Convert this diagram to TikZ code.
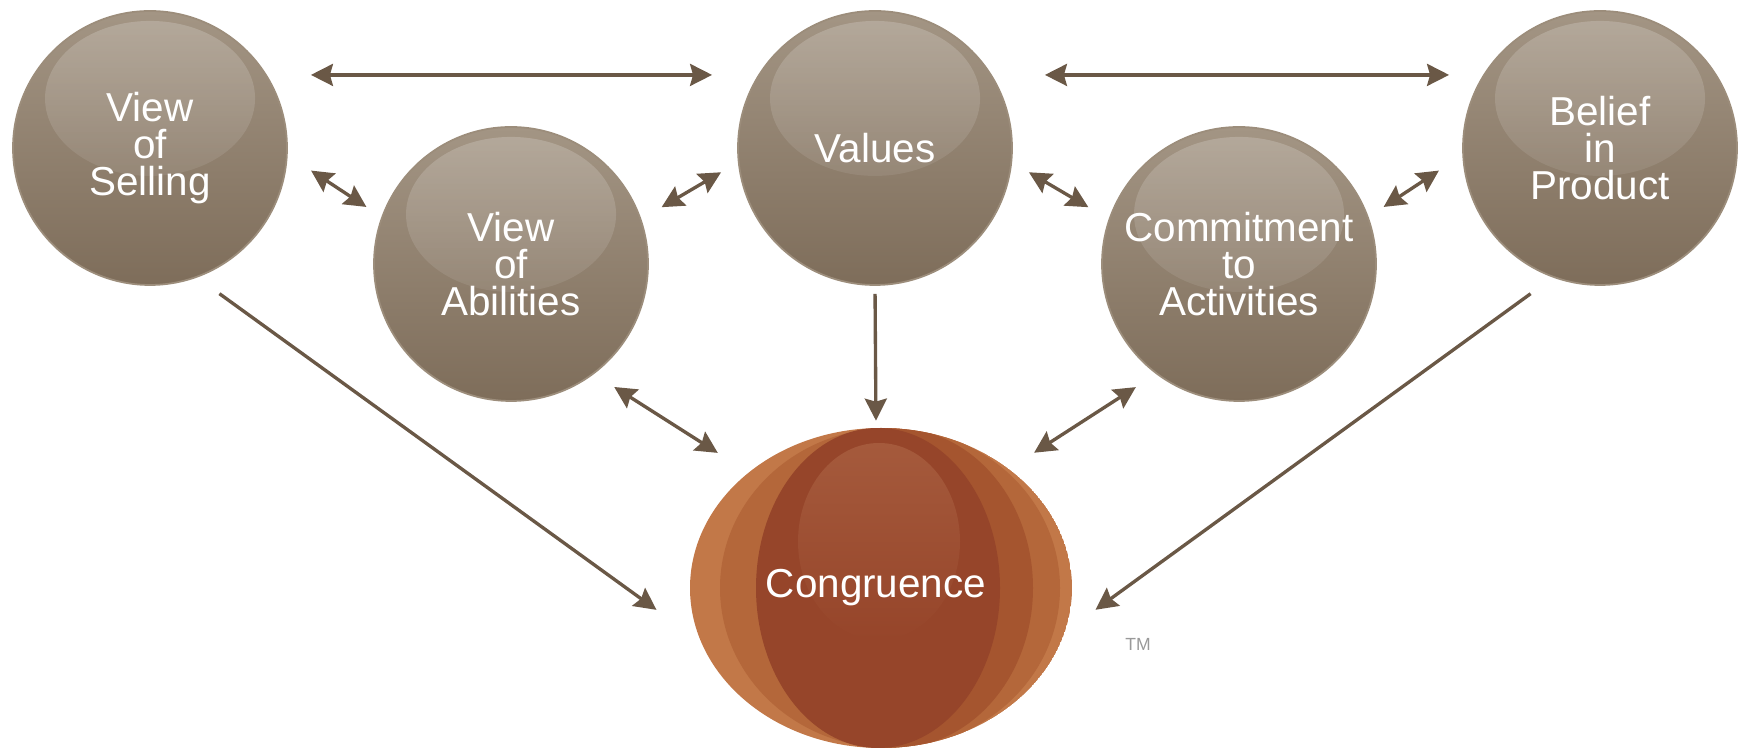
\documentclass[tikz,border=0pt]{standalone}
\usepackage{fontspec}
\setmainfont{Liberation Sans}
\usetikzlibrary{arrows.meta,shapes.geometric,fadings}

\definecolor{ballTop}{HTML}{A39584}
\definecolor{ballBot}{HTML}{7E6D5A}
\definecolor{ballRim}{HTML}{9C8D7B}
\definecolor{arrowC}{HTML}{6A5846}
\definecolor{congA}{HTML}{C27848}
\definecolor{congB}{HTML}{B4673A}
\definecolor{congC}{HTML}{A5552F}
\definecolor{congD}{HTML}{96452A}
\definecolor{congE}{HTML}{A55A3C}

\tikzfading[name=glossfade, top color=transparent!80, bottom color=transparent!100]

\tikzset{
  ball/.style={circle, minimum size=5.48cm, inner sep=0pt, top color=ballTop, bottom color=ballBot,
    draw=ballRim, line width=1pt, text=white, align=center, font=\fontsize{23}{21.2}\selectfont,
    path picture={\fill[white, path fading=glossfade] ([yshift=-1.75cm]path picture bounding box.north) ellipse (2.1cm and 1.55cm);}},
  link/.style={draw=arrowC, line width=1.9pt},
  >={Stealth[length=0.44cm,width=0.44cm,inset=0.06cm]}
}

\begin{document}
\begin{tikzpicture}
    \useasboundingbox (0,0) rectangle (34.92,14.96);

    \node[ball] (sell) at (3,12)     {View\\of\\Selling};
    \node[ball] (abil) at (10.22,9.68) {View\\of\\Abilities};
    \node[ball] (val)  at (17.5,12)  {Values};
    \node[ball] (comm) at (24.78,9.68) {Commitment\\to\\Activities};
    \node[ball] (bel)  at (32,12)    {Belief\\in\\Product};

    % layered sphere
    \begin{scope}
        \clip (17.62,3.2) ellipse (3.82 and 3.2);
        \fill[congA] (17.62,3.2) ellipse (3.82 and 3.2);
        \fill[congB] (17.80,3.2) ellipse (3.40 and 3.2);
        \fill[congC] (17.90,3.2) ellipse (2.76 and 3.2);
        \fill[congD] (17.56,3.2) ellipse (2.44 and 3.2);
        \shade[top color=congE, bottom color=congD] (17.58,4.13) ellipse (1.62 and 1.97);
    \end{scope}
    \node[ellipse, minimum width=7.64cm, minimum height=6.4cm, inner sep=0pt, text=white,
        font=\fontsize{23}{21.2}\selectfont] (cong) at (17.52,3.2) {Congruence};
    \node[text=gray!80, font=\fontsize{10}{12}\selectfont] (tm) at (22.76,2.08) {TM};

    \draw[link,<->,shorten <=0.88cm,shorten >=0.92cm] (sell.32) -- (val.148);
    \draw[link,<->,shorten <=1.06cm,shorten >=0.68cm] (val.32) -- (bel.148);
    \draw[link,<->,shorten <=0.56cm,shorten >=0.36cm] (sell.-3) -- (abil.160);
    \draw[link,<->,shorten <=0.47cm,shorten >=0.39cm] (abil.19) -- (val.186);
    \draw[link,<->,shorten <=0.39cm,shorten >=0.47cm] (val.-6) -- (comm.161);
    \draw[link,<->,shorten <=0.36cm,shorten >=0.56cm] (comm.20) -- (bel.183);
    \draw[link,->,shorten <=0.55cm,shorten >=0.92cm] (sell.-70) -- (cong.195);
    \draw[link,->,shorten <=0.16cm,shorten >=0.14cm] (val.south) -- (cong.north);
    \draw[link,->,shorten <=0.55cm,shorten >=0.92cm] (bel.-110) -- (cong.-15);
    \draw[link,<->,shorten <=0.48cm,shorten >=0.66cm] (abil.-53) -- (cong.138);
    \draw[link,<->,shorten <=0.48cm,shorten >=0.66cm] (comm.-127) -- (cong.42);
\end{tikzpicture}
\end{document}
